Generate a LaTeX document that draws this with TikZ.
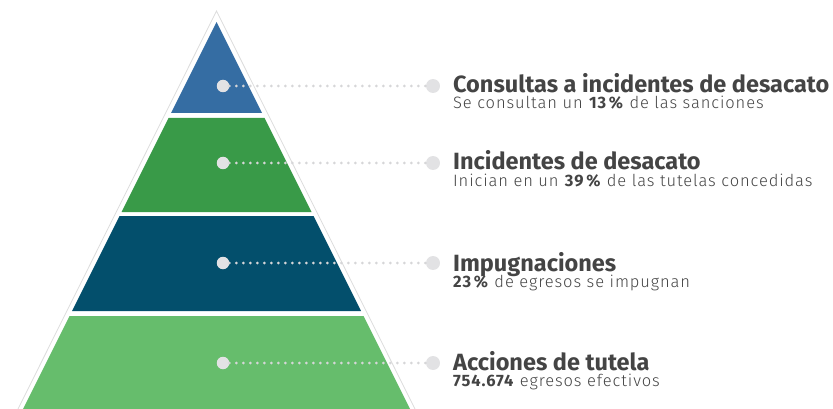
\documentclass[tikz,border=0pt]{standalone}
\usepackage{fontspec}
\setmainfont{Fira Sans}[UprightFont=* Light, BoldFont=* Bold]
\usetikzlibrary{positioning}
\definecolor{topblue}{HTML}{356DA3}
\definecolor{midgreen}{HTML}{399A48}
\definecolor{deepnavy}{HTML}{034F6C}
\definecolor{basegreen}{HTML}{66BD6C}
\definecolor{pingray}{HTML}{E2E2E4}
\definecolor{dotgray}{HTML}{D6D6D8}
\definecolor{rimgray}{HTML}{DCDCDC}
\definecolor{txtgray}{HTML}{444444}

\begin{document}
\begin{tikzpicture}[x=1pt, y=-1pt,
  pin/.style={circle, fill=pingray, inner sep=0pt, minimum size=12.5pt},
  endpin/.style={circle, fill=pingray, inner sep=0pt, minimum size=14pt},
  leader/.style={draw=dotgray, line width=3pt, line cap=round, dash pattern=on 0pt off 7pt},
  headline/.style={anchor=base west, inner sep=0pt, text=txtgray,
              font=\bfseries\fontsize{23.5}{23.5}\selectfont},
  subline/.style={anchor=base west, inner sep=0pt, text=txtgray,
              font=\fontsize{16.5}{16.5}\selectfont\addfontfeatures{LetterSpace=5.5}}
]
\useasboundingbox (0,0) rectangle (833,409);
% outline
\draw[rimgray, line width=0.8pt] (18,409) -- (216.5,11) -- (415,409);
% bands
\fill[topblue] (216.5,22) -- (262,113) -- (171,113) -- cycle;
\fill[midgreen] (168.5,118) -- (264.5,118) -- (311.5,212) -- (121.5,212) -- cycle;
\fill[deepnavy] (119.5,216) -- (313.5,216) -- (361,311) -- (72,311) -- cycle;
\fill[basegreen] (69.5,316) -- (363.5,316) -- (410,409) -- (23,409) -- cycle;
% pins
\node[pin] (p1) at (223,86) {};
\node[pin] (p2) at (223,163) {};
\node[pin] (p3) at (223,263) {};
\node[pin] (p4) at (223,363) {};
\node[endpin] (e1) at (433,86) {};
\node[endpin] (e2) at (433,163) {};
\node[endpin] (e3) at (433,263) {};
\node[endpin] (e4) at (433,363) {};
\draw[leader] (p1) -- (e1);
\draw[leader] (p2) -- (e2);
\draw[leader] (p3) -- (e3);
\draw[leader] (p4) -- (e4);
% labels
\node[headline] (t1) at (453,93) {Consultas a incidentes de desacato};
\node[subline] (s1) at (453,109) {Se consultan un \textbf{13\,\%} de las sanciones};
\node[headline] (t2) at (453,170) {Incidentes de desacato};
\node[subline] (s2) at (453,186) {Inician en un \textbf{39\,\%} de las tutelas concedidas};
\node[headline] (t3) at (453,271) {Impugnaciones};
\node[subline] (s3) at (453,287) {\textbf{23\,\%} de egresos se impugnan};
\node[headline] (t4) at (453,370) {Acciones de tutela};
\node[subline] (s4) at (453,386) {\textbf{754.674} egresos efectivos};
\end{tikzpicture}
\end{document}
